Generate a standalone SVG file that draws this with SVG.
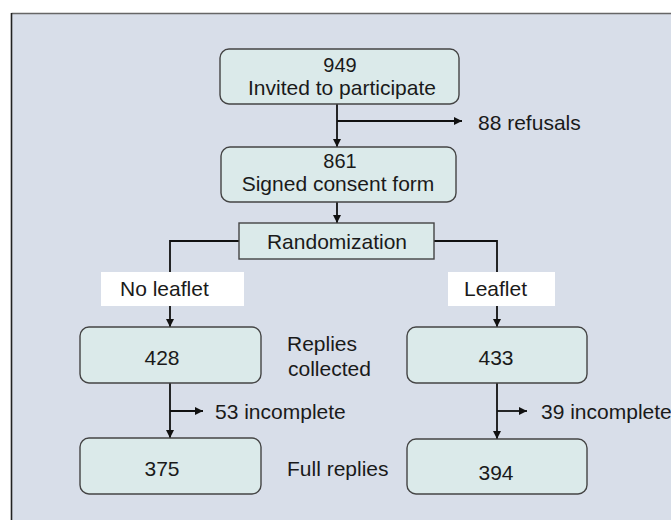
<svg xmlns="http://www.w3.org/2000/svg" width="671" height="520" viewBox="0 0 671 520">
  <style>
    .t { font-family: "Liberation Sans", Arial, sans-serif; font-size: 21px; fill: #1a1a1a; }
    .s { font-size: 20px; }
    .c { text-anchor: middle; }
    .node { fill: #dbeaea; stroke: #444; stroke-width: 1.4; }
    .line { fill: none; stroke: #111; stroke-width: 1.8; }
    .tag { fill: #ffffff; }
  </style>
  <defs>
    <marker id="arrow" viewBox="0 0 10 10" refX="10" refY="5" markerWidth="8" markerHeight="8" markerUnits="userSpaceOnUse" orient="auto">
      <path d="M0,0 L10,5 L0,10 z" fill="#111"/>
    </marker>
  </defs>

  <!-- white page and framed panel -->
  <rect x="0" y="0" width="671" height="520" fill="#ffffff"/>
  <rect x="11.5" y="13.5" width="665" height="512" fill="#d8dee9"/>
  <line x1="11.5" y1="13.5" x2="671" y2="13.5" stroke="#666" stroke-width="1.6"/>
  <line x1="11.5" y1="13" x2="11.5" y2="520" stroke="#222" stroke-width="1.6"/>

  <!-- connectors -->
  <g id="connectors">
    <line class="line" x1="337" y1="104" x2="337" y2="147" marker-end="url(#arrow)"/>
    <line class="line" x1="337" y1="121" x2="462" y2="121" marker-end="url(#arrow)"/>
    <line class="line" x1="337" y1="202" x2="337" y2="223" marker-end="url(#arrow)"/>
    <polyline class="line" points="239,241 170,241 170,327" marker-end="url(#arrow)"/>
    <polyline class="line" points="434,241 497,241 497,327" marker-end="url(#arrow)"/>
    <line class="line" x1="170" y1="383" x2="170" y2="438" marker-end="url(#arrow)"/>
    <line class="line" x1="170" y1="411" x2="203" y2="411" marker-end="url(#arrow)"/>
    <line class="line" x1="497" y1="383" x2="497" y2="439" marker-end="url(#arrow)"/>
    <line class="line" x1="497" y1="411" x2="527" y2="411" marker-end="url(#arrow)"/>
  </g>

  <!-- arm labels on white tags -->
  <g id="label-no-leaflet">
    <rect class="tag" x="101" y="272" width="143" height="34"/>
    <text class="t" x="120" y="296">No leaflet</text>
  </g>
  <g id="label-leaflet">
    <rect class="tag" x="448" y="272" width="107" height="34"/>
    <text class="t" x="464" y="296">Leaflet</text>
  </g>

  <g id="invited">
    <rect class="node" x="220" y="49" width="239" height="55" rx="9"/>
    <text class="t s c" x="340" y="72">949</text>
    <text class="t c" x="342" y="95">Invited to participate</text>
  </g>
  <text class="t" x="478" y="130">88 refusals</text>

  <g id="consent">
    <rect class="node" x="221" y="147" width="235" height="55" rx="9"/>
    <text class="t s c" x="340" y="168">861</text>
    <text class="t c" x="338" y="191">Signed consent form</text>
  </g>

  <g id="randomization">
    <rect class="node" x="239" y="223" width="195" height="36"/>
    <text class="t c" x="337" y="249">Randomization</text>
  </g>

  <g id="collected-no-leaflet">
    <rect class="node" x="80" y="327" width="181" height="56" rx="9"/>
    <text class="t c" x="162" y="365">428</text>
  </g>
  <g id="collected-leaflet">
    <rect class="node" x="407" y="327" width="180" height="56" rx="9"/>
    <text class="t c" x="496" y="365">433</text>
  </g>
  <text class="t" x="287" y="351">Replies</text>
  <text class="t" x="288" y="376">collected</text>

  <text class="t" x="215" y="419">53 incomplete</text>
  <text class="t" x="541" y="419">39 incomplete</text>

  <g id="full-no-leaflet">
    <rect class="node" x="80" y="438" width="181" height="56" rx="9"/>
    <text class="t c" x="162" y="476">375</text>
  </g>
  <g id="full-leaflet">
    <rect class="node" x="407" y="439" width="180" height="55" rx="9"/>
    <text class="t c" x="496" y="480">394</text>
  </g>
  <text class="t" x="287" y="476">Full replies</text>
</svg>
